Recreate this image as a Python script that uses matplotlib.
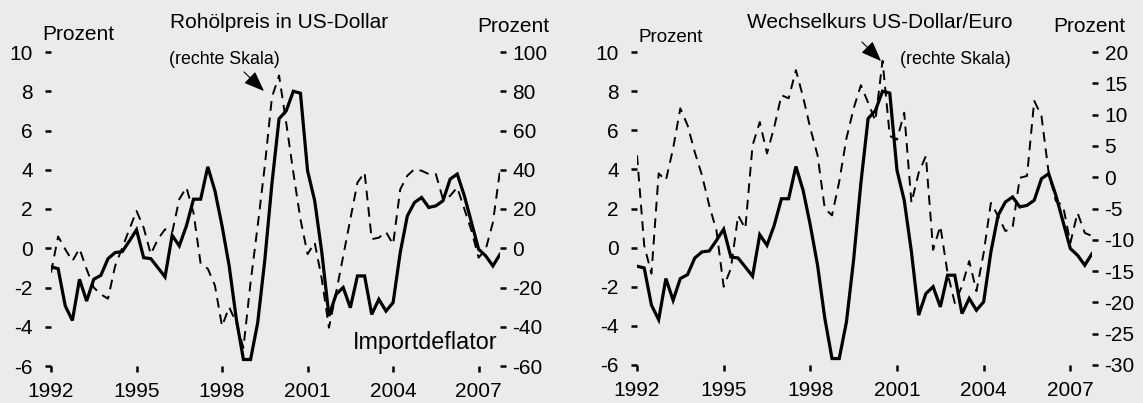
import matplotlib.pyplot as plt
from matplotlib import font_manager

# %%
names = {f.name for f in font_manager.fontManager.ttflist}
narrow = "Liberation Sans Narrow" in names
font = "Liberation Sans Narrow" if narrow else "Liberation Sans"
plt.rcParams["font.family"] = [font, "DejaVu Sans"]
plt.rcParams["axes.unicode_minus"] = False
fs = 16.5 if narrow else 15

# %%
start_year = 1992
x_years = [1992, 1995, 1998, 2001, 2004, 2007]

# Importdeflator, Veraenderung gg. Vorjahr in % (linke Skala), quartalsweise
importdeflator = [
    -0.95, -1.04, -2.94, -3.68, -1.58, -2.69, -1.58, -1.38,
    -0.53, -0.22, -0.17, 0.37, 0.94, -0.48, -0.53, -0.99,
    -1.46, 0.66, 0.12, 1.14, 2.5, 2.5, 4.15, 2.93,
    1.14, -0.9, -3.6, -5.67, -5.67, -3.8, -0.6, 3.3,
    6.6, 7.0, 8.0, 7.9, 3.95, 2.42, -0.22, -3.45,
    -2.35, -2.0, -3.03, -1.41, -1.41, -3.37, -2.6, -3.2,
    -2.77, -0.22, 1.65, 2.33, 2.59, 2.08, 2.16, 2.42,
    3.52, 3.78, 2.67, 1.31, -0.05, -0.39, -0.9, -0.31,
]
# Rohoelpreis in US-Dollar (rechte Skala)
oelpreis = [
    -12.4, 6.0, -0.5, -6.5, -0.2, -10.7, -20, -23.5,
    -25.7, -9, 0.3, 9.7, 19, 10.5, -3, 4.6,
    9.7, 8, 25, 31, 18, -8, -10.4, -19,
    -39.7, -30, -38, -50.7, -17.5, 11.4, 42, 77,
    88, 64, 38.6, 14.8, -3, 2.9, -15.8, -40.5,
    -22.6, -4, 14.8, 33.5, 38.6, 4.6, 5.4, 8.3,
    2, 30, 37, 40.3, 39.5, 37.8, 37.8, 25,
    26.7, 31, 20, 8.9, -4.8, -0.5, 13.1, 39.5,
]
# Wechselkurs US-Dollar/Euro (rechte Skala)
wechselkurs = [
    3.5, -10.9, -15.4, 0.6, -0.5, 4.6, 11, 8.3,
    4.0, 0.3, -4.5, -8.5, -17.5, -14.6, -6.1, -8.2,
    5.1, 8.8, 3.8, 8.0, 13.1, 12.6, 17.1, 12.8,
    7.8, 3.5, -5, -6.1, -0.7, 6.2, 11, 14.7,
    11.9, 9.0, 18.6, 6.6, 6.0, 10.3, -4.1, 0.7,
    3.4, -11.6, -7.8, -15.3, -20.1, -17.4, -13.4, -18.2,
    -12.1, -4.1, -6.2, -8.6, -8.1, -0.1, 0.2, 12.2,
    9.8, 0.7, -3.8, -4.6, -10.5, -5.7, -8.9, -9.4,
]
quarters = [start_year + i / 4 for i in range(len(importdeflator))]

left_ticks = list(range(-6, 11, 2))
oel_ticks = list(range(-60, 101, 20))
wk_ticks = list(range(-30, 21, 5))

# %%
W, H = 1143, 403
bg = "#ebebeb"
fig = plt.figure(figsize=(W / 100, H / 100), dpi=100, facecolor=bg)


def box(x0, x1, y0, y1):
    return [x0 / W, 1 - y1 / H, (x1 - x0) / W, (y1 - y0) / H]


def style(ax, side, pad):
    for s in ax.spines.values():
        s.set_visible(False)
    ax.tick_params(axis="y", which="both", direction="out", length=4, width=1.8,
                   labelsize=fs, pad=pad, left=(side == "left"), right=(side == "right"),
                   labelleft=(side == "left"), labelright=(side == "right"))


def panel(rect, series, rticks, rlim):
    ax = fig.add_axes(rect)
    ax.set_facecolor(bg)
    ax.plot(quarters, importdeflator, color="black", lw=2.3, solid_joinstyle="miter")
    ax.set_xlim(start_year, quarters[-1])
    ax.set_ylim(left_ticks[0], left_ticks[-1])
    ax.set_yticks(left_ticks)
    ax.set_xticks(x_years)
    ax.tick_params(axis="x", direction="out", length=4.5, width=1.8, labelsize=fs, pad=7)
    style(ax, "left", 9)
    axr = ax.twinx()
    axr.patch.set_visible(False)
    axr.plot(quarters, series, color="black", lw=1.4, dashes=(5, 3.5))
    axr.set_ylim(rlim)
    axr.set_yticks(rticks)
    style(axr, "right", 5)
    return ax, axr


panel(box(51, 500, 52, 366), oelpreis, oel_ticks, (-60, 100))
panel(box(637, 1092, 52, 365), wechselkurs, wk_ticks, (-30, 20))


def txt(x, y, s, size, ha="left"):
    fig.text(x / W, 1 - y / H, s, fontsize=size, ha=ha, va="center")


def arrow(x0, y0, x1, y1):
    fig.add_artist(plt.matplotlib.patches.FancyArrowPatch(
        (x0 / W, 1 - y0 / H), (x1 / W, 1 - y1 / H), transform=fig.transFigure,
        arrowstyle="-|>,head_length=0.9,head_width=0.35", mutation_scale=14,
        color="black", lw=0.8))


txt(42, 35, "Prozent", fs)
txt(477, 27, "Prozent", fs)
txt(170, 23, "Rohölpreis in US-Dollar", fs)
txt(169, 59, "(rechte Skala)", fs * 0.85)
txt(353, 342, "Importdeflator", fs * 1.12)
arrow(242, 70, 266, 93)

txt(638, 37, "Prozent", fs * 0.9)
txt(1053, 27, "Prozent", fs)
txt(747, 23, "Wechselkurs US-Dollar/Euro", fs)
txt(900, 59, "(rechte Skala)", fs * 0.85)
arrow(860, 40, 883, 63)

fig.savefig("out.png", dpi=100, facecolor=bg)
